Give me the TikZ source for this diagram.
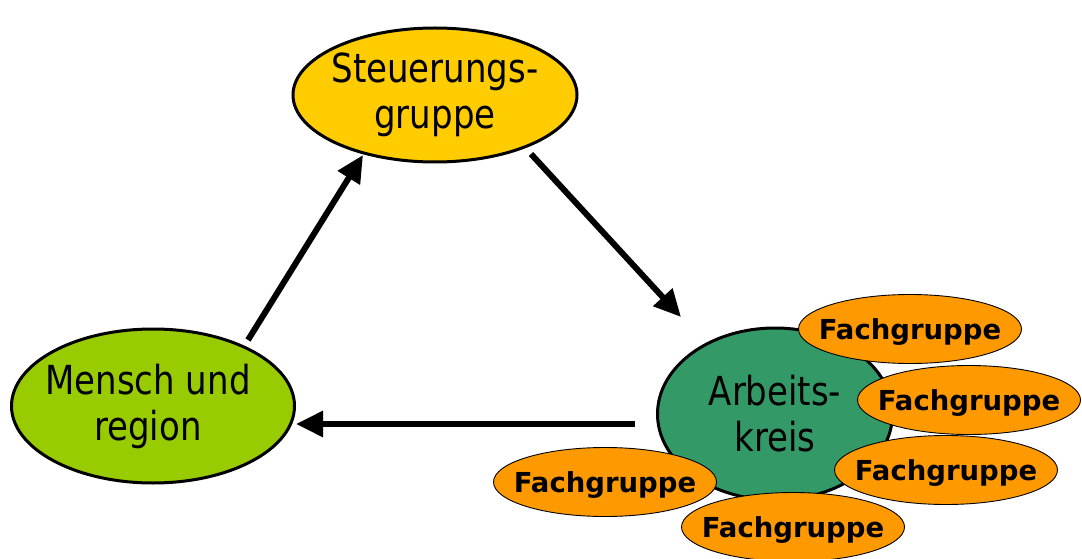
\documentclass[tikz,border=0pt]{standalone}
\usepackage{fontspec}
\newfontfamily\mainf{DejaVu Sans}[FakeStretch=0.85]
\newfontfamily\fachf{DejaVu Sans}
\usetikzlibrary{shapes.geometric,arrows.meta}
\definecolor{cYellow}{HTML}{FFCC00}
\definecolor{cLime}{HTML}{99CC00}
\definecolor{cGreen}{HTML}{339966}
\definecolor{cOrange}{HTML}{FF9900}
\begin{document}
\begin{tikzpicture}[x=1pt,y=-1pt,
  bigell/.style={ellipse, draw=black, line width=3pt, inner sep=0pt},
  biglbl/.style={font=\mainf\fontsize{40}{46}\selectfont, align=center, inner sep=0pt},
  fachlbl/.style={font=\fachf\bfseries\fontsize{27.5}{30}\selectfont, inner sep=0pt, yshift=-3pt},
  fach/.style={ellipse, draw=black, line width=0.9pt, fill=cOrange, inner sep=0pt,
    minimum width=223pt, minimum height=69pt, label={[fachlbl]center:Fachgruppe}},
  arr/.style={line width=6pt, -{Triangle[length=27pt,width=25pt]}}]
\useasboundingbox (0,0) rectangle (1082,559);

\node[bigell, fill=cYellow, minimum width=284pt, minimum height=134pt,
  label={[biglbl]center:Steuerungs-\\gruppe}] (s) at (435,95) {};
\node[bigell, fill=cLime, minimum width=283pt, minimum height=154pt,
  label={[biglbl, xshift=-5pt]center:Mensch und\\region}] (m) at (153,406) {};
\node[bigell, fill=cGreen, minimum width=235pt, minimum height=172pt,
  label={[biglbl]center:Arbeits-\\kreis}] (a) at (775,414) {};

\node[fach] (f1) at (910,329) {};
\node[fach] (f2) at (969,400) {};
\node[fach] (f3) at (946,470) {};
\node[fach] (f4) at (605,482) {};
\node[fach] (f5) at (793,527) {};

\coordinate (a1s) at (248,340);
\coordinate (a1e) at (363,155);
\coordinate (a2s) at (531,154);
\coordinate (a2e) at (681,317);
\coordinate (a3s) at (635,424);
\coordinate (a3e) at (296,424);
\draw[arr] (a1s) -- (a1e);
\draw[arr] (a2s) -- (a2e);
\draw[arr] (a3s) -- (a3e);
\end{tikzpicture}
\end{document}
